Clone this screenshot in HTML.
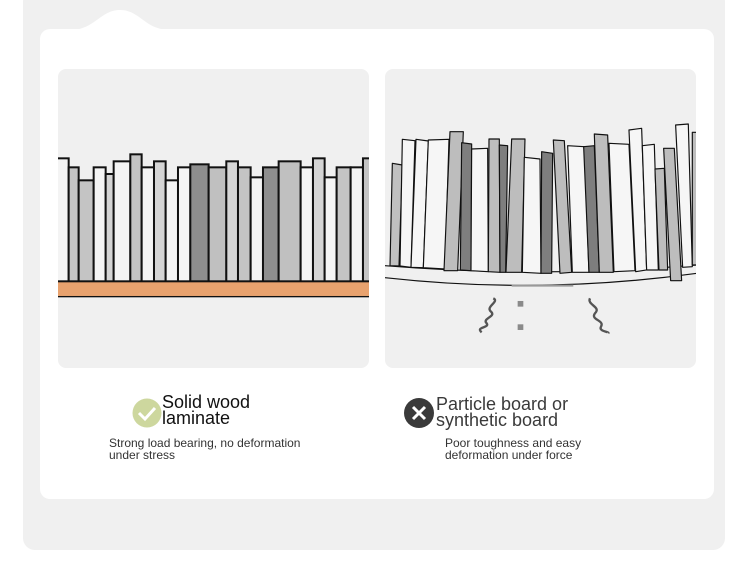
<!DOCTYPE html>
<html><head><meta charset="utf-8"><style>
html,body{margin:0;padding:0;background:#fff;width:750px;height:561px;overflow:hidden;font-family:"Liberation Sans",sans-serif}
.outer{position:absolute;left:23px;top:-10px;width:702px;height:560px;background:#f0f0f0;border-radius:12px}
.card{position:absolute;left:40px;top:29px;width:674px;height:470px;background:#fff;border-radius:10px}
.panel{position:absolute;top:69px;width:311px;height:299px;background:#f0f0f0;border-radius:8px;overflow:hidden}
.t{position:absolute;font-size:18px;line-height:16px;color:#111}
.d{position:absolute;font-size:12px;line-height:12px;color:#333}
</style></head><body>
<div class="outer"></div>
<svg style="position:absolute;left:0;top:0" width="750" height="60"><path d="M70,30 C95,30 100,10 120,10 C140,10 145,30 170,30 Z" fill="#fff"/></svg>
<div class="card"></div>
<div class="panel" style="left:58px">
<svg width="311" height="299"><g transform="translate(0,71) scale(0.3333)" stroke="#111" stroke-width="6">
<rect x="-5" y="55" width="37" height="369" fill="#f4f4f4"/>
<rect x="32" y="82" width="30" height="342" fill="#c4c4c4"/>
<rect x="62" y="121" width="45" height="303" fill="#c4c4c4"/>
<rect x="107" y="82" width="36" height="342" fill="#f4f4f4"/>
<rect x="143" y="102" width="24" height="322" fill="#d4d4d4"/>
<rect x="167" y="64" width="50" height="360" fill="#f4f4f4"/>
<rect x="217" y="43" width="34" height="381" fill="#c4c4c4"/>
<rect x="251" y="82" width="37" height="342" fill="#f4f4f4"/>
<rect x="288" y="64" width="35" height="360" fill="#d4d4d4"/>
<rect x="323" y="121" width="37" height="303" fill="#f4f4f4"/>
<rect x="360" y="82" width="37" height="342" fill="#f4f4f4"/>
<rect x="397" y="73" width="55" height="351" fill="#8e8e8e"/>
<rect x="452" y="82" width="53" height="342" fill="#c0c0c0"/>
<rect x="505" y="64" width="35" height="360" fill="#d6d6d6"/>
<rect x="540" y="82" width="38" height="342" fill="#c4c4c4"/>
<rect x="578" y="112" width="37" height="312" fill="#f4f4f4"/>
<rect x="615" y="82" width="47" height="342" fill="#8e8e8e"/>
<rect x="662" y="64" width="66" height="360" fill="#c0c0c0"/>
<rect x="728" y="82" width="37" height="342" fill="#f4f4f4"/>
<rect x="765" y="55" width="35" height="369" fill="#d4d4d4"/>
<rect x="800" y="112" width="36" height="312" fill="#f4f4f4"/>
<rect x="836" y="82" width="42" height="342" fill="#c4c4c4"/>
<rect x="878" y="82" width="37" height="342" fill="#f4f4f4"/>
<rect x="915" y="55" width="30" height="369" fill="#c4c4c4"/>
<rect x="-5" y="425" width="950" height="45" fill="#e8a26e" stroke-width="4"/>
</g></svg></div>
<div class="panel" style="left:385px">
<svg width="311" height="299"><g transform="translate(0,46) scale(0.3333)" stroke="#111" stroke-width="3.5" stroke-linejoin="round">
<path d="M0,452 Q467,490 935,450" fill="none"/>
<path d="M0,488 Q467,540 935,475" fill="none"/>
<polygon points="22,145 52,150 42,453 15,452" fill="#c0c0c0"/>
<polygon points="52,73 90,77 78,457 45,453" fill="#f6f6f6"/>
<polygon points="93,73 130,78 115,458 78,457" fill="#f6f6f6"/>
<polygon points="130,75 192,73 180,462 115,458" fill="#f6f6f6"/>
<polygon points="195,50 235,50 218,467 177,467" fill="#bdbdbd"/>
<polygon points="230,83 260,87 258,467 226,465" fill="#7e7e7e"/>
<polygon points="260,102 308,100 310,470 258,467" fill="#f6f6f6"/>
<polygon points="312,72 343,72 345,472 310,470" fill="#bdbdbd"/>
<polygon points="343,90 368,92 362,472 345,472" fill="#7e7e7e"/>
<polygon points="380,72 420,72 410,472 363,472" fill="#bdbdbd"/>
<polygon points="418,127 465,132 468,475 412,472" fill="#f6f6f6"/>
<polygon points="470,110 503,115 500,475 468,475" fill="#7e7e7e"/>
<polygon points="505,75 538,77 560,472 525,475" fill="#bdbdbd"/>
<polygon points="548,92 598,95 612,472 562,472" fill="#f6f6f6"/>
<polygon points="596,95 628,92 643,472 612,472" fill="#7e7e7e"/>
<polygon points="628,57 668,60 685,472 643,472" fill="#bdbdbd"/>
<polygon points="672,85 732,88 750,467 687,470" fill="#f6f6f6"/>
<polygon points="732,45 770,40 785,465 752,470" fill="#f6f6f6"/>
<polygon points="772,92 808,88 820,465 785,465" fill="#f6f6f6"/>
<polygon points="810,162 838,160 848,465 822,465" fill="#bdbdbd"/>
<polygon points="836,100 868,100 890,497 857,497" fill="#bdbdbd"/>
<polygon points="872,30 910,27 922,455 893,457" fill="#f6f6f6"/>
<polygon points="922,52 940,52 940,450 922,450" fill="#bdbdbd"/>
<line x1="380" y1="512" x2="565" y2="512" stroke="#999" stroke-width="6"/>
<path d="M325,550 C345,560 300,575 318,590 C335,605 290,610 305,625 C315,640 270,635 290,652" fill="none" stroke="#555" stroke-width="7"/>
<path d="M615,550 C605,570 650,575 630,595 C615,615 660,615 648,635 C640,650 675,650 670,655" fill="none" stroke="#555" stroke-width="7"/>
<rect x="398" y="558" width="17" height="17" fill="#8a8a8a" stroke="none"/>
<rect x="398" y="628" width="17" height="17" fill="#8a8a8a" stroke="none"/>
</g></svg></div>
<svg style="position:absolute;left:0;top:0" width="750" height="561">
<circle cx="147" cy="413" r="14.5" fill="#cdd79e"/>
<path d="M139,413 L145,419 L155,408" fill="none" stroke="#fff" stroke-width="3"/>
<circle cx="419" cy="413" r="15" fill="#3a3a3a"/>
<path d="M413,407 L425,419 M425,407 L413,419" stroke="#fff" stroke-width="3"/>
</svg>
<div class="t" style="left:162px;top:394px">Solid wood<br>laminate</div>
<div class="d" style="left:109px;top:437px">Strong load bearing, no deformation<br>under stress</div>
<div class="t" style="left:436px;top:396px;color:#3a3a3a">Particle board or<br>synthetic board</div>
<div class="d" style="left:445px;top:437px">Poor toughness and easy<br>deformation under force</div>
</body></html>
